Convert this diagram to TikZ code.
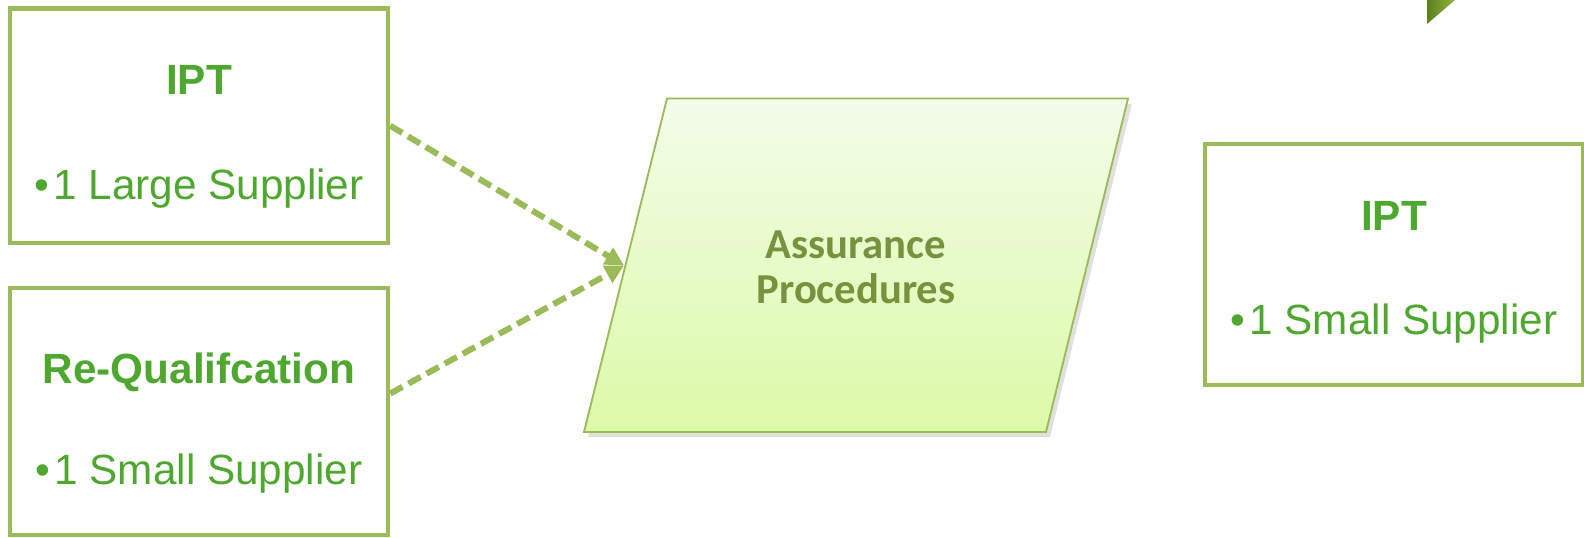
\documentclass[tikz,border=0pt]{standalone}
\usepackage{fontspec}
\setmainfont{Liberation Sans}
\newfontfamily\procfont{Carlito}
\usetikzlibrary{arrows.meta,positioning}

\definecolor{boxline}{RGB}{155,187,89}
\definecolor{boxtext}{RGB}{78,167,46}
\definecolor{proctext}{RGB}{118,146,60}
\definecolor{proctop}{RGB}{244,252,234}
\definecolor{procbot}{RGB}{219,250,166}
\definecolor{chevdark}{RGB}{92,128,28}
\definecolor{chevlight}{RGB}{142,182,62}

\newcommand{\supline}[1]{•\hspace{3pt}#1}
\newcommand{\headline}[2]{\rule{0pt}{#1}\textbf{#2}}

\tikzset{
  supbox/.style={draw=boxline, line width=3.4pt, fill=white, align=center,
    text=boxtext, font=\fontsize{31.7}{79}\selectfont, minimum width=283.5pt},
  proctxt/.style={align=center, text=proctext, font=\procfont\bfseries\fontsize{32}{34}\selectfont},
  flowarr/.style={draw=boxline, line width=4.5pt, dash pattern=on 10.5pt off 5pt,
    -{Triangle[length=14pt,width=14pt]}},
}

\begin{document}
\begin{tikzpicture}[x=0.75pt,y=0.75pt,yscale=-1,xscale=1]
    \useasboundingbox (0,0) rectangle (1584,537);

    % Chevron corner, top right
    \shade [left color=chevdark, right color=chevlight] (1427,0) -- (1455,0) -- (1427,24) -- cycle ;

    % Supplier boxes
    \node [supbox, minimum height=176pt] (ipta) at (199,125.75) {\headline{38pt}{IPT}\\\supline{1 Large Supplier}};
    \node [supbox, minimum height=185pt, font=\fontsize{31.7}{75.5}\selectfont] (rqb) at (199,411.5) {\headline{40pt}{Re-Qualifcation}\\\supline{1 Small Supplier}};
    \node [supbox, minimum height=181pt, font=\fontsize{31.7}{78}\selectfont] (iptc) at (1394,264.5) {\headline{34pt}{IPT}\\\supline{1 Small Supplier}};

    % Assurance parallelogram
    \fill [black, opacity=0.12] (588,437) -- (671,103) -- (1132,104) -- (1050,437) -- cycle ;
    \shade [top color=proctop, bottom color=procbot, draw=boxline, line width=1.4pt]
      (584,432) -- (667,98.5) -- (1128,98.5) -- (1046,432) -- cycle ;
    \node [proctxt] (assur) at (856,267) {Assurance\\Procedures};
    \coordinate (pin) at (624,265.5);

    % Arrows
    \draw [flowarr] (ipta.east) -- (pin);
    \draw [flowarr] ([yshift=-13.5pt]rqb.east) -- (pin);
\end{tikzpicture}
\end{document}
